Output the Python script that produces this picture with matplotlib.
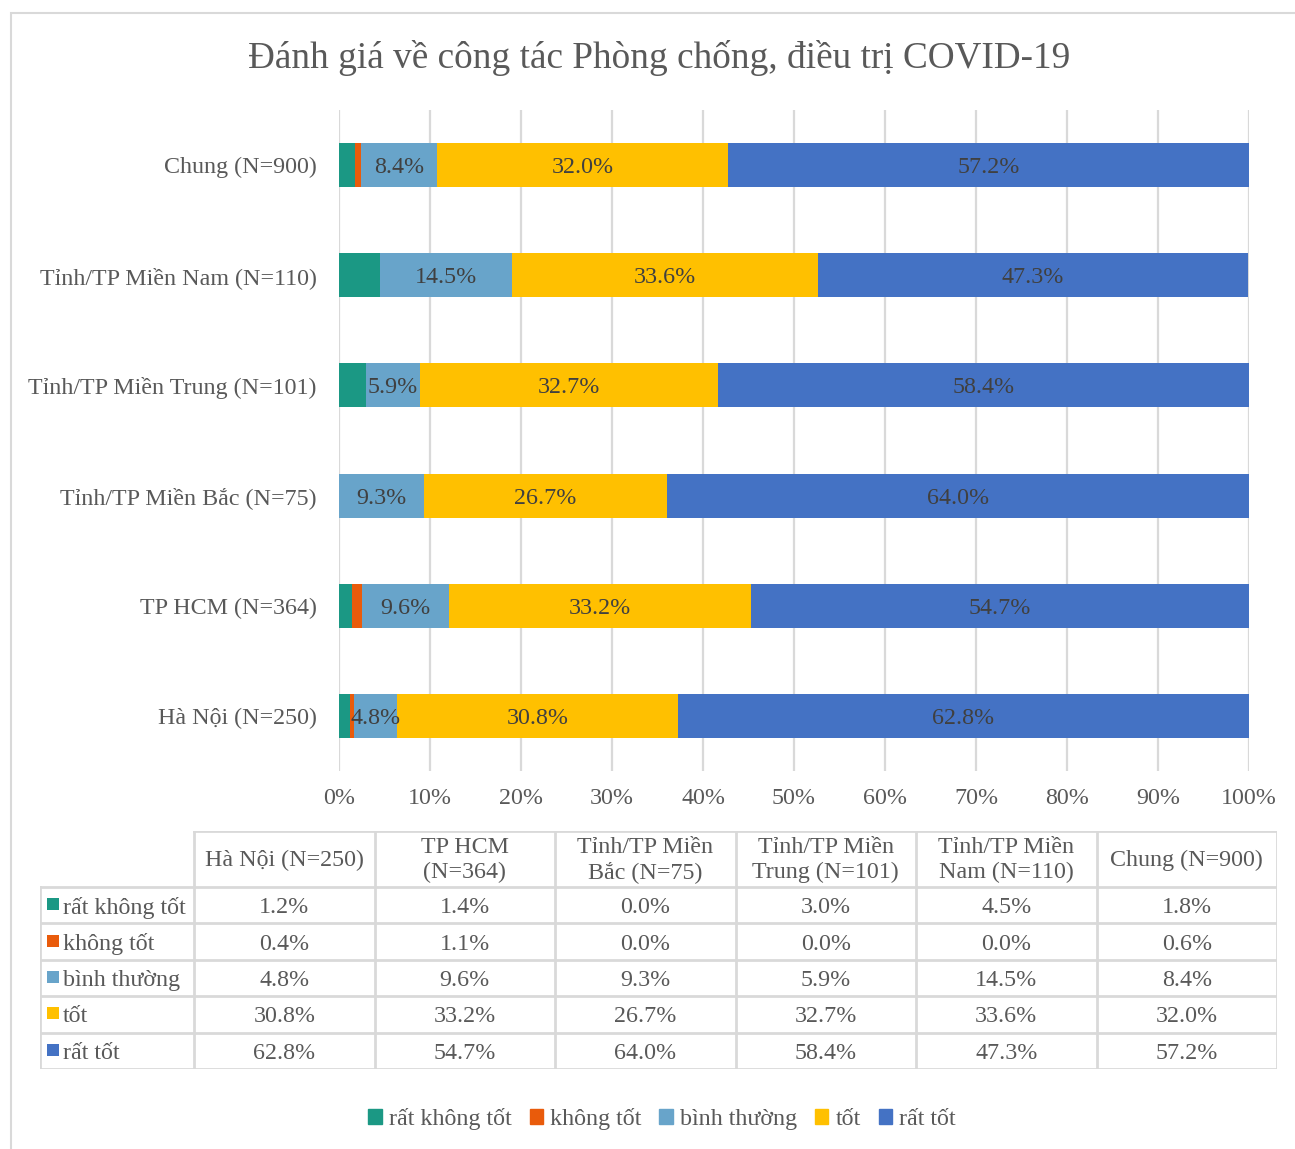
import matplotlib.pyplot as plt
from matplotlib.patches import Rectangle

plt.rcParams['font.family'] = ['Liberation Serif', 'DejaVu Serif']

W, H = 1295, 1149

title = "Đánh giá về công tác Phòng chống, điều trị COVID-19"

# groups, bottom bar first
groups = ["Hà Nội (N=250)", "TP HCM (N=364)", "Tỉnh/TP Miền Bắc (N=75)",
          "Tỉnh/TP Miền Trung (N=101)", "Tỉnh/TP Miền Nam (N=110)", "Chung (N=900)"]
table_headers = ["Hà Nội (N=250)", "TP HCM\n(N=364)", "Tỉnh/TP Miền\nBắc (N=75)",
                 "Tỉnh/TP Miền\nTrung (N=101)", "Tỉnh/TP Miền\nNam (N=110)", "Chung (N=900)"]

levels = ["rất không tốt", "không tốt", "bình thường", "tốt", "rất tốt"]
rat_khong_tot = [1.2, 1.4, 0.0, 3.0, 4.5, 1.8]
khong_tot = [0.4, 1.1, 0.0, 0.0, 0.0, 0.6]
binh_thuong = [4.8, 9.6, 9.3, 5.9, 14.5, 8.4]
tot = [30.8, 33.2, 26.7, 32.7, 33.6, 32.0]
rat_tot = [62.8, 54.7, 64.0, 58.4, 47.3, 57.2]
series = [rat_khong_tot, khong_tot, binh_thuong, tot, rat_tot]

colors = ["#1B9884", "#E95B0B", "#68A4CA", "#FFC000", "#4472C4"]
show_label = [False, False, True, True, True]

grid_c = "#D9D9D9"
text_c = "#595959"
fs = 17.3


def px_box(x0, y0, x1, y1):
    return [x0 / W, 1 - y1 / H, (x1 - x0) / W, (y1 - y0) / H]


fig = plt.figure(figsize=(W / 100, H / 100), dpi=100)

# chart frame
fig.patches.append(Rectangle((11 / W, -0.1), 1.2, 1 - 13 / H + 0.1, transform=fig.transFigure,
                             fill=False, edgecolor=grid_c, linewidth=1.5))

fig.text(659 / W, 1 - 58 / H, title, ha="center", va="center", fontsize=26.8, color=text_c)

ax = fig.add_axes(px_box(339, 110, 1249, 771))
ypos = list(range(len(groups)))
left = [0.0] * len(groups)
for vals, col, lab in zip(series, colors, show_label):
    bars = ax.barh(ypos, vals, left=left, height=0.4, color=col, linewidth=0, zorder=3)
    if lab:
        for b, v in zip(bars, vals):
            ax.text(b.get_x() + b.get_width() / 2, b.get_y() + b.get_height() / 2,
                    f"{v:.1f}%", ha="center", va="center_baseline", fontsize=fs,
                    color="#404040", zorder=4)
    left = [l + v for l, v in zip(left, vals)]

ax.set_xlim(0, 100)
ax.set_ylim(-0.5, len(groups) - 0.5)
ax.set_xticks(range(0, 101, 10))
ax.set_xticklabels([f"{t}%" for t in range(0, 101, 10)])
ax.set_yticks(ypos)
ax.set_yticklabels(groups)
ax.tick_params(axis="x", length=0, pad=12, labelsize=fs, labelcolor=text_c)
ax.tick_params(axis="y", length=0, pad=16, labelsize=fs, labelcolor=text_c)
ax.grid(axis="x", color=grid_c, linewidth=1.6, zorder=0)
for s in ax.spines.values():
    s.set_visible(False)

# data table under the chart
tx0, tx1 = 40, 1277
ty0, ty1 = 831, 1069
label_w = 154
head_h = 56
tab = fig.add_axes(px_box(tx0, ty0, tx1, ty1))
tab.set_xlim(tx0, tx1)
tab.set_ylim(ty1, ty0)
tab.axis("off")
ncol = len(groups)
col_w = (tx1 - tx0 - label_w) / ncol
row_h = (ty1 - ty0 - head_h) / len(levels)
cx = [tx0 + label_w + i * col_w for i in range(ncol + 1)]
ry = [ty0 + head_h + j * row_h for j in range(len(levels) + 1)]
lk = dict(color=grid_c, linewidth=2, solid_capstyle="projecting")

tab.plot([cx[0], cx[-1]], [ty0, ty0], **lk)
for y in ry:
    tab.plot([tx0, tx1], [y, y], **lk)
for x in cx:
    tab.plot([x, x], [ty0, ty1], **lk)
tab.plot([tx0, tx0], [ry[0], ty1], **lk)

for i, h in enumerate(table_headers):
    tab.text((cx[i] + cx[i + 1]) / 2, ty0 + head_h / 2 + 1, h, ha="center", va="center",
             fontsize=fs, color=text_c, linespacing=1.2)
for j, (name, vals, col) in enumerate(zip(levels, series, colors)):
    yc = (ry[j] + ry[j + 1]) / 2
    tab.add_patch(Rectangle((tx0 + 7, yc - 7), 12, 12, color=col, linewidth=0))
    tab.text(tx0 + 23, yc, name, ha="left", va="center_baseline", fontsize=fs, color=text_c)
    for i, v in enumerate(vals):
        tab.text((cx[i] + cx[i + 1]) / 2, yc, f"{v:.1f}%", ha="center", va="center_baseline",
                 fontsize=fs, color=text_c)

handles = [Rectangle((0, 0), 1, 1, color=c) for c in colors]
fig.legend(handles, levels, loc="center", bbox_to_anchor=(662 / W, 1 - 1119 / H), ncol=5,
           frameon=False, fontsize=fs, labelcolor=text_c, handlelength=0.55, handleheight=0.55,
           handletextpad=0.3, columnspacing=0.75)

fig.savefig("out.png", dpi=100, facecolor="white")
